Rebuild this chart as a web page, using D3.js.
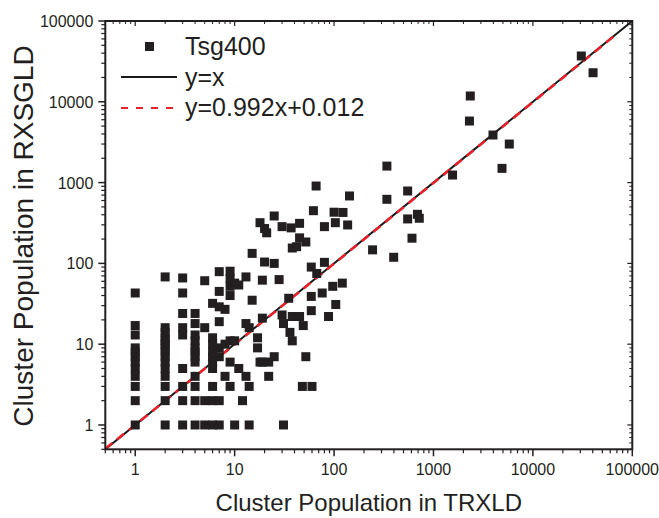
<!DOCTYPE html>
<html><head><meta charset="utf-8">
<script src="https://cdn.jsdelivr.net/npm/d3@7"></script>
<style>body{margin:0;background:#fff}svg{display:block;font-family:"Liberation Sans",Arial,sans-serif}</style>
</head><body><svg id="c" width="659" height="518"></svg>
<script>
const trxld = [
1,1,1,1,1,1,1,1,1,1,1,1,
2,2,2,2,2,2,2,2,2,2,2,2,2,2,2,
3,3,3,3,3,3,3,3,3,
4,4,4,4,4,4,4,4,4,4,4,4,
5,5,5,5,
6,6,6,6,6,6,6,6,6,6,
7,7,7,7,7,7,7,7,
8,8,8,
9,9,9,9,9,9,9,
10,10,10,
11,11,
12,
13,13,13,
14,14,14,
15,15,
17,17,
18,18,
19,19,19,
20,20,
21,
22,22,
25,25,25,
28,
30,30,
31,31,
35,36,37,
38,38,38,
42,
45,45,45,
48,49,
52,52,
59,59,59,
60,62,66,67,
76,80,80,88,97,100,103,104,121,123,137,143,
244,340,340,398,550,550,608,690,720,
1556,2300,2345,3970,4890,5790,30700,40300];
const rxsgld = [
43,17,13,9,8,7,6,5,4,3,2,1,
68,16,14,12,11,10,9,8,7,6,5,4,3,2,1,
66,43,24,16,13,5,3,2,1,
24,18,13,11,9,8,7,6,4,3,2,1,
61,16,2,1,
32,12,10,8,7,6,5,3,2,1,
79,45,29,19,9,7,2,1,
27,10,4,
80,65,52,40,11,6,3,
57,11,1,
54,5,
2,
68,18,4,
16,3,1,
133,35,
12,9,
319,6,
62,21,6,
270,104,
239,
6,4,
386,100,7,
63,
285,23,
18,1,
37,14,275,
155,22,11,
161,
313,207,22,
3,17,
184,7,
90,39,26,
3,449,907,75,
43,285,103,22,52,430,319,31,57,427,299,683,
147,1600,621,119,787,355,205,405,362,
1240,5780,11800,3880,1500,3000,36900,22900];
const majorTicks = [1,10,100,1000,10000,100000];
const tickLabels = ["1","10","100","1000","10000","100000"];
const fitSlope = 0.992, fitIntercept = 0.012;
const legendLabels = ["Tsg400","y=x","y=0.992x+0.012"];
const domain = [0.5, 100000];

const svg = d3.select("#c");
const L=105.3, R=632.3, T=21, B=449.3;
const x = d3.scaleLog().domain(domain).range([L,R]);
const y = d3.scaleLog().domain(domain).range([B,T]);

const minors = [];
[0.1,1,10,100,1000,10000].forEach(d=>{for(let k=2;k<=9;k++){const v=k*d; if(v>=0.5&&v<=100000) minors.push(v);}});

svg.append("clipPath").attr("id","cp").append("rect").attr("x",L).attr("y",T).attr("width",R-L).attr("height",B-T);
const g = svg.append("g").attr("clip-path","url(#cp)");

// y=x
g.append("line").attr("x1",x(domain[0])).attr("y1",y(domain[0])).attr("x2",x(domain[1])).attr("y2",y(domain[1]))
 .attr("stroke","#1a1a1a").attr("stroke-width",2);

// fit line
const fitX = d3.range(Math.log10(0.5), Math.log10(76000)+1e-9, 0.05).map(v=>Math.pow(10,v));
g.append("path").datum(fitX)
 .attr("d", d3.line().x(d=>x(d)).y(d=>y(fitSlope*d+fitIntercept)))
 .attr("fill","none").attr("stroke","#e8202a").attr("stroke-width",2.6).attr("stroke-dasharray","9,6");

// points
const s=9;
svg.append("g").selectAll("rect").data(trxld.map((d,i)=>[d,rxsgld[i]])).join("rect")
 .attr("x",d=>x(d[0])-s/2).attr("y",d=>y(d[1])-s/2).attr("width",s).attr("height",s)
 .attr("fill","#231f20");

// axes frame
const ax = svg.append("g").attr("stroke","#231f20").attr("fill","none");
ax.append("rect").attr("x",L).attr("y",T).attr("width",R-L).attr("height",B-T).attr("stroke-width",2);
majorTicks.forEach(v=>{
  ax.append("line").attr("x1",x(v)).attr("x2",x(v)).attr("y1",B).attr("y2",B+7).attr("stroke-width",1.5);
  ax.append("line").attr("x1",L).attr("x2",L-7).attr("y1",y(v)).attr("y2",y(v)).attr("stroke-width",1.5);
  ax.append("line").attr("x1",x(v)).attr("x2",x(v)).attr("y1",T).attr("y2",T+5).attr("stroke-width",1.2);
  ax.append("line").attr("x1",R).attr("x2",R-5).attr("y1",y(v)).attr("y2",y(v)).attr("stroke-width",1.2);
});
minors.forEach(v=>{
  ax.append("line").attr("x1",x(v)).attr("x2",x(v)).attr("y1",B).attr("y2",B+4).attr("stroke-width",1.2);
  ax.append("line").attr("x1",L).attr("x2",L-4).attr("y1",y(v)).attr("y2",y(v)).attr("stroke-width",1.2);
  ax.append("line").attr("x1",x(v)).attr("x2",x(v)).attr("y1",T).attr("y2",T+3).attr("stroke-width",1);
  ax.append("line").attr("x1",R).attr("x2",R-3).attr("y1",y(v)).attr("y2",y(v)).attr("stroke-width",1);
});

// tick labels
svg.append("g").selectAll("text").data(majorTicks).join("text")
 .attr("x",d=>x(d)).attr("y",B+26).attr("text-anchor","middle")
 .attr("font-size",16).attr("fill","#231f20").text((d,i)=>tickLabels[i]);
svg.append("g").selectAll("text").data(majorTicks).join("text")
 .attr("x",L-12).attr("y",d=>y(d)+6).attr("text-anchor","end")
 .attr("font-size",16).attr("fill","#231f20").text((d,i)=>tickLabels[i]);

// axis titles
svg.append("text").attr("x",(L+R)/2).attr("y",511).attr("text-anchor","middle")
 .attr("font-size",24).attr("fill","#231f20").text("Cluster Population in TRXLD");
svg.append("text").attr("transform","translate(33,236) rotate(-90)").attr("text-anchor","middle")
 .attr("font-size",28).attr("fill","#231f20").text("Cluster Population in RXSGLD");

// legend
const lg = svg.append("g");
lg.append("rect").attr("x",145).attr("y",42).attr("width",9).attr("height",9).attr("fill","#231f20");
lg.append("line").attr("x1",121).attr("x2",177).attr("y1",77).attr("y2",77).attr("stroke","#1a1a1a").attr("stroke-width",2);
lg.append("line").attr("x1",121).attr("x2",177).attr("y1",108).attr("y2",108).attr("stroke","#e8202a").attr("stroke-width",2.2).attr("stroke-dasharray","7,8");
[55,86,116].forEach((yy,i)=>{
  lg.append("text").attr("x",185).attr("y",yy).attr("font-size",25).attr("fill","#231f20").text(legendLabels[i]);
});
</script></body></html>
